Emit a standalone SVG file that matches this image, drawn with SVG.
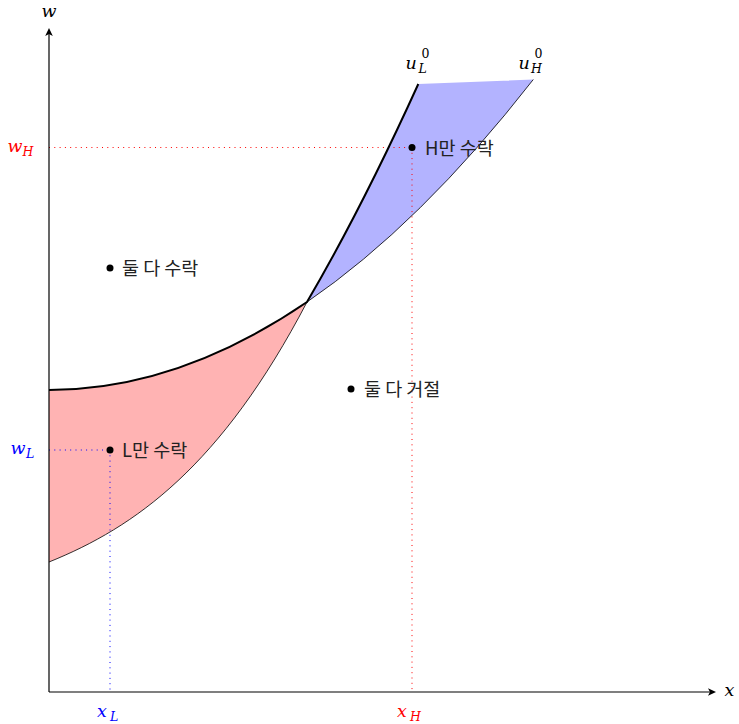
<svg xmlns="http://www.w3.org/2000/svg" width="739" height="724" viewBox="0 0 739 724">
<defs>
<marker id="arr" markerWidth="10" markerHeight="10" refX="6" refY="5" orient="auto" markerUnits="userSpaceOnUse">
<path d="M0,1.2 L8,5 L0,8.8 L2,5 Z" fill="#000"/>
</marker>
</defs>
<style>
.m{font-family:"DejaVu Serif","Liberation Serif",serif;font-style:italic;font-size:17.5px;fill:#000}
.s{font-size:12.5px}
.up{font-style:normal}
.k{font-family:"Noto Sans CJK KR","Noto Sans",sans-serif;font-size:18.5px;fill:#222}
.thick{fill:none;stroke:#000;stroke-width:2}
.thin{fill:none;stroke:#000;stroke-width:0.8}
.dr{fill:none;stroke:#f00;stroke-width:1;stroke-dasharray:1 4.3}
.db{fill:none;stroke:#00f;stroke-width:1;stroke-dasharray:1 4.3}
.axis{fill:none;stroke:#000;stroke-width:1.2}
.red{fill:#f00}
.blue{fill:#00f}
</style>
<g id="regions">
<path id="region-L" d="M49,390 Q178,390 307,302 C221,466.6 135,527.3 49,562 Z" fill="#ffb3b3"/>
<path id="region-H" d="M307,302 C344,238.8 381.3,165.4 418.3,84 L533.3,79.5 Q420.15,224.7 307,302 Z" fill="#b3b3ff"/>
</g>
<g id="guides">
<path class="dr" d="M49,147.5 H412 M412,147.5 V692"/>
<path class="db" d="M49,450 H110 M110,450 V692"/>
</g>
<g id="connectors">
<path id="uL0" class="thick" d="M49,390 Q178,390 307,302 C344,238.8 381.3,165.4 418.3,84"/>
<path id="uH0" class="thin" d="M49,562 C135,527.3 221,466.6 307,302 Q420.15,224.7 533.3,79.5"/>
<path class="axis" d="M49,692 V30" marker-end="url(#arr)"/>
<path class="axis" d="M49,692 H714" marker-end="url(#arr)"/>
</g>
<g id="axis-labels">
<text class="m" x="41.5" y="17">w</text>
<text class="m" x="724.5" y="696">x</text>
<text class="m red" x="7.5" y="152">w</text><text class="m s red" x="22.5" y="156">H</text>
<text class="m blue" x="10.5" y="454">w</text><text class="m s blue" x="26" y="458">L</text>
<text class="m blue" x="97" y="717">x</text><text class="m s blue" x="110" y="721">L</text>
<text class="m red" x="397" y="717">x</text><text class="m s red" x="410" y="721">H</text>
</g>
<g id="curve-labels">
<text class="m" x="405.5" y="68.5">u</text><text class="m s up" x="421.5" y="58">0</text><text class="m s" x="418.5" y="73">L</text>
<text class="m" x="518.5" y="68.5">u</text><text class="m s up" x="534.5" y="58">0</text><text class="m s" x="531" y="73">H</text>
</g>
<g id="node-both-accept">
<circle cx="110" cy="268" r="3.5"/>
<text class="k" x="122" y="275">둘 다 수락</text>
</g>
<g id="node-L-accept">
<circle cx="110" cy="450" r="3.5"/>
<text class="k" x="122" y="457">L만 수락</text>
</g>
<g id="node-H-accept">
<circle cx="412" cy="147.5" r="3.5"/>
<text class="k" x="425" y="154.5">H만 수락</text>
</g>
<g id="node-both-reject">
<circle cx="351" cy="389" r="3.5"/>
<text class="k" x="364" y="396">둘 다 거절</text>
</g>
</svg>
